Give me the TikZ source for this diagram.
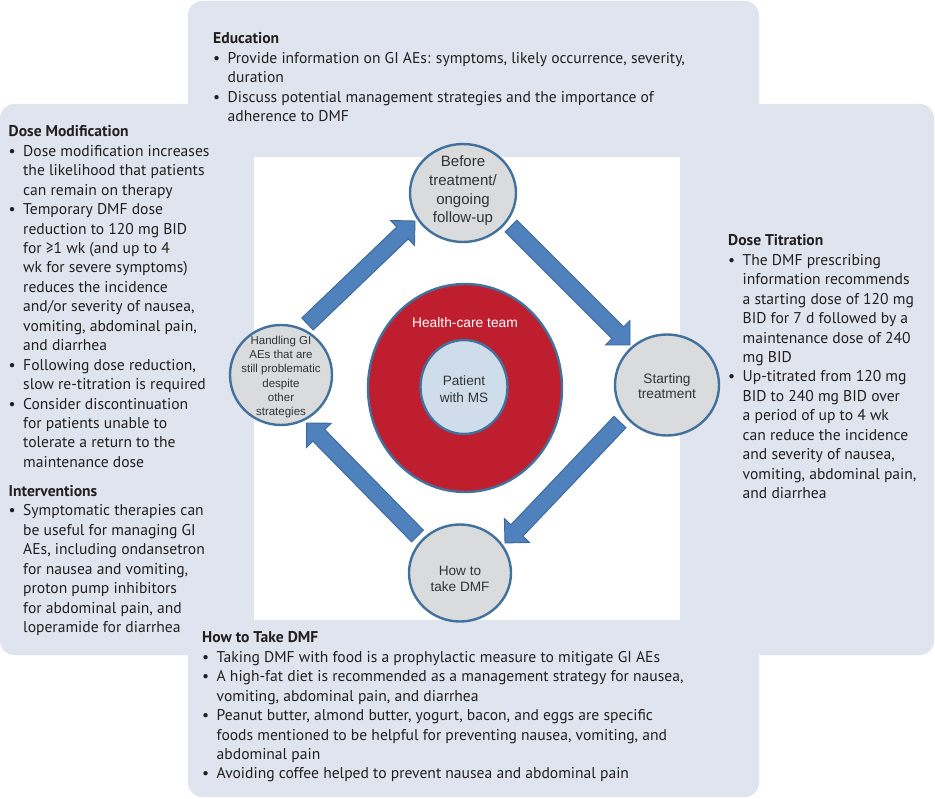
\documentclass[tikz,border=0pt]{standalone}
\usepackage{fontspec}
\setmainfont{PT Sans}
\newfontfamily\arialf{Liberation Sans}
\usetikzlibrary{shapes.geometric,calc}
\definecolor{panel}{HTML}{E0E4EF}
\definecolor{cborder}{HTML}{41719C}
\definecolor{cfill}{HTML}{DADBDD}
\definecolor{afill}{HTML}{4F81BD}
\definecolor{aborder}{HTML}{3B6699}
\definecolor{redc}{HTML}{BE1E2D}
\definecolor{innerc}{HTML}{CEDDE9}
\definecolor{txt}{HTML}{231F20}
\definecolor{ctxt}{HTML}{333333}
\newcommand\blk{\fontsize{15.6}{19.45}\selectfont}
\newcommand\bi{\makebox[14.5pt][l]{\textbullet}}
\newcommand\ci{\makebox[14.5pt][l]{}}
\newcommand\blockarrow[2]{%
 \path[blockarr] let \p1=(#1), \p2=(#2), \n1={atan2(\y2-\y1,\x2-\x1)} in
  ($(\p1)+(\n1+90:8.3pt)$) -- ($(\p2)+(\n1+180:17.3pt)+(\n1+90:8.3pt)$)
  -- ($(\p2)+(\n1+180:17.3pt)+(\n1+90:17.3pt)$) -- (\p2)
  -- ($(\p2)+(\n1+180:17.3pt)+(\n1-90:17.3pt)$) -- ($(\p2)+(\n1+180:17.3pt)+(\n1-90:8.3pt)$)
  -- ($(\p1)+(\n1-90:8.3pt)$) -- cycle;}
\tikzset{
  stage/.style={ellipse, draw=cborder, line width=2.4pt, fill=cfill, inner sep=0pt},
  ctext/.style={align=center, text=ctxt, inner sep=0pt},
  blockarr/.style={fill=afill, draw=aborder, line width=0.9pt, line join=miter},
  textblock/.style={anchor=north west, align=left, inner sep=0pt, text=txt, font=\blk},
}
\begin{document}
\begin{tikzpicture}[x=1pt,y=-1pt]
\useasboundingbox (0,0) rectangle (935,799);
% background cross
\fill[panel, rounded corners=14pt] (188,1) rectangle (759,797);
\fill[panel, rounded corners=14pt] (0,104) rectangle (934,655);
\fill[white] (254,157) rectangle (680,620);

% central circles
\node[ellipse, draw=cborder, line width=2.4pt, fill=redc, minimum width=194pt, minimum height=208pt, inner sep=0pt] (team) at (465,388) {};
\node[ellipse, draw=cborder, line width=2.4pt, fill=innerc, minimum width=87pt, minimum height=94pt, inner sep=0pt] (patient) at (464,387) {};
\node[inner sep=0pt, text=white, font=\arialf\fontsize{13.8}{16}\selectfont] (teamt) at (465,323) {Health-care team};
\node[ctext, font=\arialf\fontsize{13.6}{17}\selectfont] (patientt) at (464,389) {Patient\\with MS};

% stage circles
\node[stage, minimum width=106pt, minimum height=98pt] (before) at (463,193) {};
\node[stage, minimum width=104pt, minimum height=101pt] (start) at (667,385) {};
\node[stage, minimum width=102pt, minimum height=100pt] (hand) at (281,375) {};
\node[stage, minimum width=102pt, minimum height=97pt] (how) at (460,573) {};
\node[ctext, font=\arialf\fontsize{15}{18.6}\selectfont] (beforet) at (463,191) {Before\\treatment/\\ongoing\\follow-up};
\node[ctext, font=\arialf\fontsize{13.7}{15.7}\selectfont] (startt) at (667,386) {Starting\\treatment};
\node[ctext, font=\arialf\fontsize{11.5}{14.3}\selectfont] (handt) at (281,377) {Handling GI\\AEs that are\\still problematic\\despite\\other\\strategies};
\node[ctext, font=\arialf\fontsize{13.6}{16.5}\selectfont] (howt) at (460,579) {How to\\take DMF};

% arrows
\coordinate (aAs) at ($(hand.center)+(26.5,-51)$);
\coordinate (aAe) at ($(before.center)+(-48,28)$);
\coordinate (aBs) at ($(before.center)+(48,33)$);
\coordinate (aBe) at ($(start.center)+(-37,-40)$);
\coordinate (aCs) at ($(start.center)+(-47,37)$);
\coordinate (aCe) at ($(how.center)+(45,-30)$);
\coordinate (aDs) at ($(how.center)+(-42.5,-37)$);
\coordinate (aDe) at ($(hand.center)+(25.7,48)$);
\blockarrow{aAs}{aAe}
\blockarrow{aBs}{aBe}
\blockarrow{aCs}{aCe}
\blockarrow{aDs}{aDe}

% text blocks
\node[textblock] (edu) at (213,32.5) {\textbf{Education}\\
\bi Provide information on GI AEs: symptoms, likely occurrence, severity,\\
\ci duration\\
\bi Discuss potential management strategies and the importance of\\
\ci adherence to DMF};

\node[textblock] (dosemod) at (8.5,125.5) {\textbf{Dose Modification}\\
\bi Dose modification increases\\
\ci the likelihood that patients\\
\ci can remain on therapy\\
\bi Temporary DMF dose\\
\ci reduction to 120 mg BID\\
\ci for ≥1 wk (and up to 4\\
\ci wk for severe symptoms)\\
\ci reduces the incidence\\
\ci and/or severity of nausea,\\
\ci vomiting, abdominal pain,\\
\ci and diarrhea\\
\bi Following dose reduction,\\
\ci slow re-titration is required\\
\bi Consider discontinuation\\
\ci for patients unable to\\
\ci tolerate a return to the\\
\ci maintenance dose\\[9.5pt]
\textbf{Interventions}\\
\bi Symptomatic therapies can\\
\ci be useful for managing GI\\
\ci AEs, including ondansetron\\
\ci for nausea and vomiting,\\
\ci proton pump inhibitors\\
\ci for abdominal pain, and\\
\ci loperamide for diarrhea};

\node[textblock] (titr) at (728,234.5) {\textbf{Dose Titration}\\
\bi The DMF prescribing\\
\ci information recommends\\
\ci a starting dose of 120 mg\\
\ci BID for 7 d followed by a\\
\ci maintenance dose of 240\\
\ci mg BID\\
\bi Up-titrated from 120 mg\\
\ci BID to 240 mg BID over\\
\ci a period of up to 4 wk\\
\ci can reduce the incidence\\
\ci and severity of nausea,\\
\ci vomiting, abdominal pain,\\
\ci and diarrhea};

\node[textblock] (howtake) at (202,631.5) {\textbf{How to Take DMF}\\
\bi Taking DMF with food is a prophylactic measure to mitigate GI AEs\\
\bi A high-fat diet is recommended as a management strategy for nausea,\\
\ci vomiting, abdominal pain, and diarrhea\\
\bi Peanut butter, almond butter, yogurt, bacon, and eggs are specific\\
\ci foods mentioned to be helpful for preventing nausea, vomiting, and\\
\ci abdominal pain\\
\bi Avoiding coffee helped to prevent nausea and abdominal pain};
\end{tikzpicture}
\end{document}
